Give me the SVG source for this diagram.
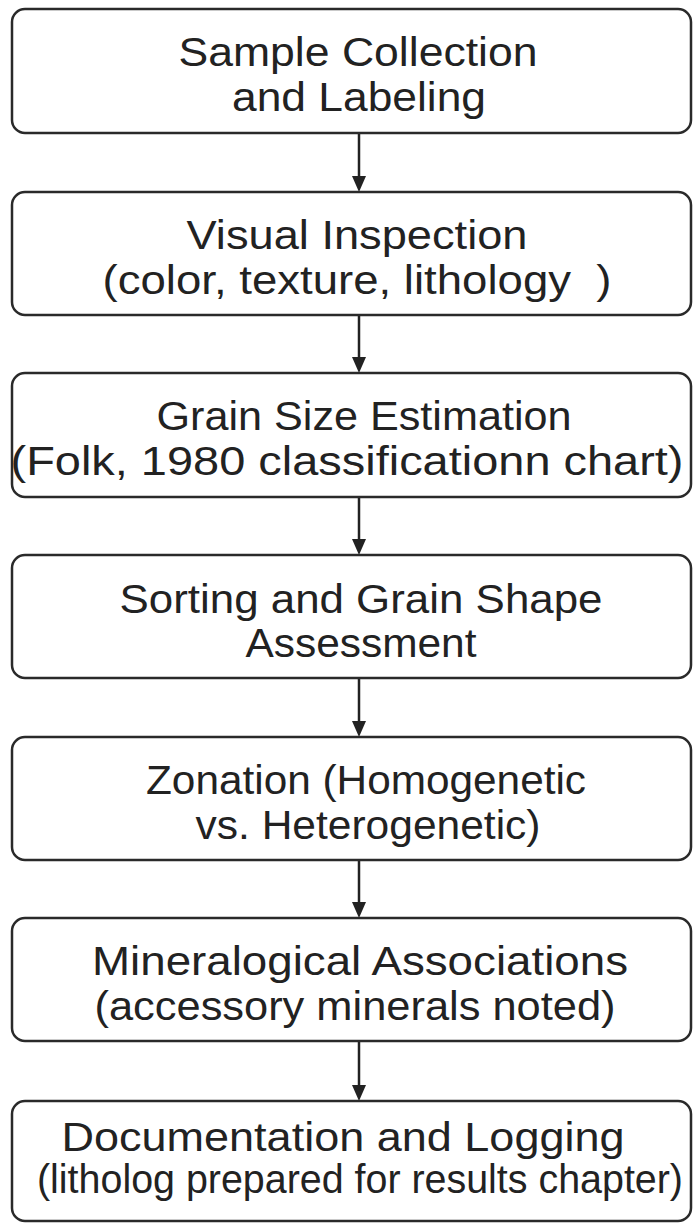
<svg xmlns="http://www.w3.org/2000/svg" width="693" height="1224" viewBox="0 0 693 1224">
<style>
.box{fill:#fff;stroke:#2a2a2a;stroke-width:2.5}
.t{font-family:"Liberation Sans",Arial,sans-serif;font-size:40px;fill:#222;text-anchor:middle}
.c{stroke:#222;stroke-width:2.5;fill:none}
</style>
<rect width="693" height="1224" fill="#fff"/>
<g id="connectors">
<path class="c" d="M359,133 V180"/>
<path class="c" d="M359,315 V361"/>
<path class="c" d="M359,497 V543"/>
<path class="c" d="M359,678 V725"/>
<path class="c" d="M359,860 V906"/>
<path class="c" d="M359,1041 V1088"/>
<g fill="#222">
<path d="M352,176 L366,176 L359,192 Z"/>
<path d="M352,357 L366,357 L359,373 Z"/>
<path d="M352,539 L366,539 L359,555 Z"/>
<path d="M352,721 L366,721 L359,737 Z"/>
<path d="M352,902 L366,902 L359,918 Z"/>
<path d="M352,1085 L366,1085 L359,1101 Z"/>
</g>
</g>
<g id="n1"><rect class="box" x="12" y="9" width="679" height="124" rx="13"/>
<text class="t" x="358" y="66" textLength="359" lengthAdjust="spacingAndGlyphs">Sample Collection</text>
<text class="t" x="359" y="111" textLength="254" lengthAdjust="spacingAndGlyphs">and Labeling</text></g>
<g id="n2"><rect class="box" x="12" y="192" width="679" height="123" rx="13"/>
<text class="t" x="357" y="249" textLength="341" lengthAdjust="spacingAndGlyphs">Visual Inspection</text>
<text class="t" x="357" y="294" textLength="509" lengthAdjust="spacingAndGlyphs" xml:space="preserve">(color, texture, lithology  )</text></g>
<g id="n3"><rect class="box" x="12" y="373" width="679" height="124" rx="13"/>
<text class="t" x="364" y="430" textLength="415" lengthAdjust="spacingAndGlyphs">Grain Size Estimation</text>
<text class="t" x="347" y="475" textLength="673" lengthAdjust="spacingAndGlyphs">(Folk, 1980 classificationn chart)</text></g>
<g id="n4"><rect class="box" x="12" y="555" width="679" height="123" rx="13"/>
<text class="t" x="361" y="613" textLength="483" lengthAdjust="spacingAndGlyphs">Sorting and Grain Shape</text>
<text class="t" x="361" y="657" textLength="231" lengthAdjust="spacingAndGlyphs">Assessment</text></g>
<g id="n5"><rect class="box" x="12" y="737" width="679" height="123" rx="13"/>
<text class="t" x="366" y="794" textLength="440" lengthAdjust="spacingAndGlyphs">Zonation (Homogenetic</text>
<text class="t" x="368" y="839" textLength="345" lengthAdjust="spacingAndGlyphs">vs. Heterogenetic)</text></g>
<g id="n6"><rect class="box" x="12" y="918" width="679" height="123" rx="13"/>
<text class="t" x="360" y="975" textLength="536" lengthAdjust="spacingAndGlyphs">Mineralogical Associations</text>
<text class="t" x="355" y="1020" textLength="521" lengthAdjust="spacingAndGlyphs">(accessory minerals noted)</text></g>
<g id="n7"><rect class="box" x="12" y="1101" width="679" height="120" rx="13"/>
<text class="t" x="343" y="1151" textLength="563" lengthAdjust="spacingAndGlyphs">Documentation and Logging</text>
<text class="t" x="360" y="1193" textLength="646" lengthAdjust="spacingAndGlyphs">(litholog prepared for results chapter)</text></g>
</svg>
